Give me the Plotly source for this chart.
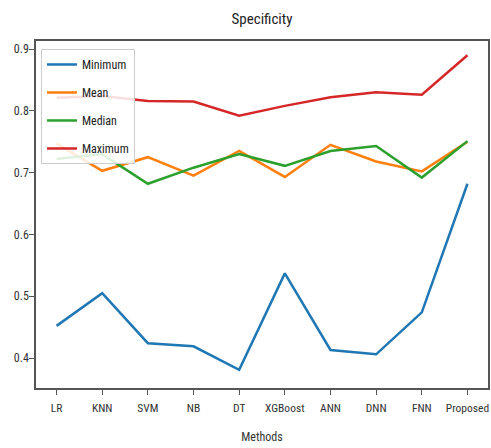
import plotly.graph_objects as go

methods = ["LR", "KNN", "SVM", "NB", "DT", "XGBoost", "ANN", "DNN", "FNN", "Proposed"]
minimum = [0.452, 0.505, 0.424, 0.419, 0.381, 0.537, 0.413, 0.406, 0.474, 0.682]
mean = [0.747, 0.703, 0.725, 0.695, 0.735, 0.693, 0.745, 0.718, 0.702, 0.750]
median = [0.722, 0.730, 0.682, 0.708, 0.730, 0.711, 0.735, 0.743, 0.692, 0.751]
maximum = [0.821, 0.824, 0.816, 0.815, 0.792, 0.808, 0.822, 0.830, 0.826, 0.890]
yticks = [0.4, 0.5, 0.6, 0.7, 0.8, 0.9]

series = [("Minimum", minimum, "#1f77b4"), ("Mean", mean, "#ff7f0e"),
          ("Median", median, "#2ca02c"), ("Maximum", maximum, "#d62728")]

FAM = "Roboto Condensed, Roboto, Liberation Sans, sans-serif"

fig = go.Figure()
for name, vals, col in series:
    fig.add_trace(go.Scatter(x=list(range(len(methods))), y=vals, mode="lines", name=name,
                             legendgroup=name, line=dict(color=col, width=2.5)))

axis_common = dict(showline=True, linecolor="#555555", linewidth=1.5, mirror=True,
                   ticks="outside", ticklen=5, tickcolor="#555555", showgrid=False,
                   zeroline=False, automargin=False)
fig.update_layout(
    width=491, height=448,
    margin=dict(l=36, r=3, t=41, b=60),
    paper_bgcolor="white", plot_bgcolor="white",
    title=dict(text="Specificity", x=(36 + 488) / 2 / 491, xanchor="center", y=1 - 19 / 448,
               yanchor="middle", font=dict(family=FAM, size=15, color="#222222")),
    xaxis=dict(tickmode="array", tickvals=list(range(len(methods))), ticktext=methods,
               range=[-0.45, 9.45], ticklabeloverflow="allow", tickangle=0, ticklabelstandoff=3,
               tickfont=dict(family=FAM, size=11.5, color="#333333"),
               title=dict(text="Methods", font=dict(family=FAM, size=12, color="#333333"), standoff=19),
               **axis_common),
    yaxis=dict(range=[0.3515, 0.913], tickvals=yticks, ticklabelstandoff=-2,
               ticktext=[f"{v:.1f}" for v in yticks],
               tickfont=dict(family=FAM, size=12, color="#333333"), **axis_common),
    legend=dict(x=0.011, y=0.977, xanchor="left", yanchor="top", bgcolor="rgba(255,255,255,0.85)",
                bordercolor="#cccccc", borderwidth=1, font=dict(family=FAM, size=12, color="#222222"),
                tracegroupgap=9),
    showlegend=True,
)
fig.write_html("out.html", config={"displayModeBar": False},
               post_script="document.body.style.margin='0';document.body.style.overflow='hidden';")
